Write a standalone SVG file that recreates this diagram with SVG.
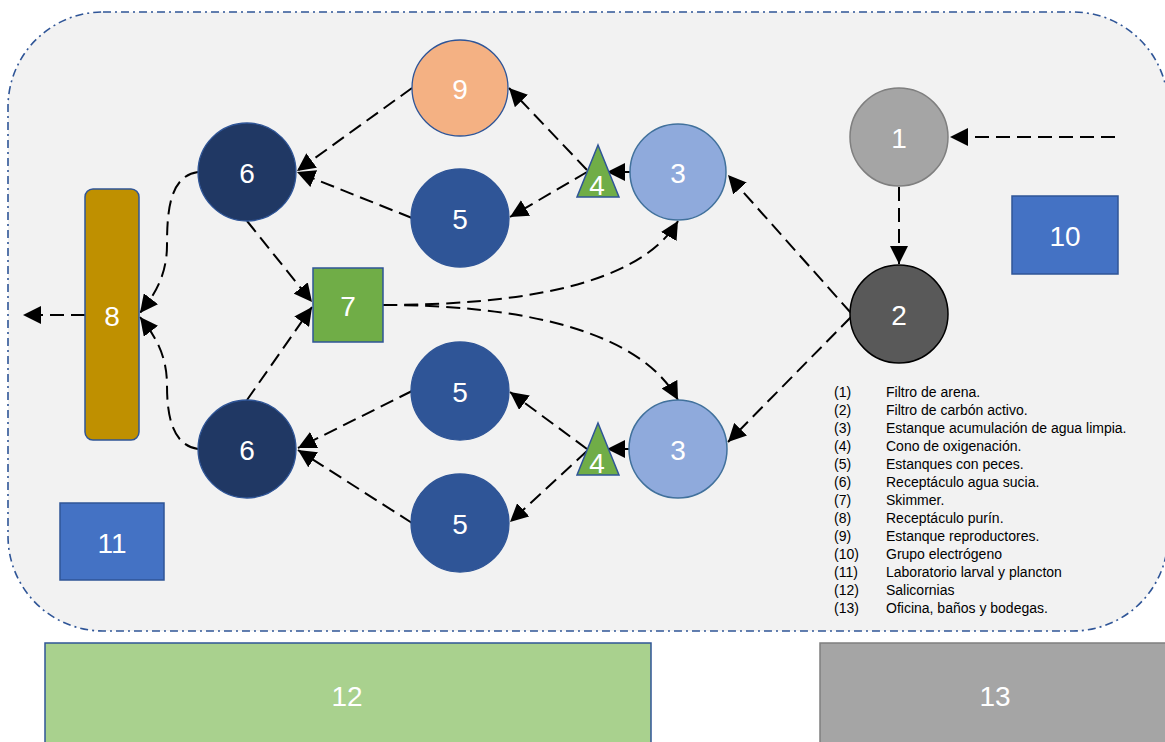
<svg xmlns="http://www.w3.org/2000/svg" width="1165" height="742" viewBox="0 0 1165 742">
  <defs>
    <marker id="arrow" viewBox="0 0 10 10" refX="10" refY="5" markerWidth="18" markerHeight="18" markerUnits="userSpaceOnUse" orient="auto">
      <path d="M0,0 L10,5 L0,10 z" fill="#000"/>
    </marker>
    <style>
      .lbl { font-family: "Liberation Sans", Arial, sans-serif; font-size: 28px; fill: #fff; text-anchor: middle; }
      .leg { font-family: "Liberation Sans", Arial, sans-serif; font-size: 14px; fill: #000; }
      .edge { fill: none; stroke: #000; stroke-width: 2; stroke-dasharray: 14 7; marker-end: url(#arrow); }
      .dark6 { fill: #203864; stroke: #2F5597; stroke-width: 1.3; }
      .fish5 { fill: #2F5597; stroke: #2F5597; stroke-width: 1.3; }
      .clean3 { fill: #8FAADC; stroke: #41719C; stroke-width: 1.5; }
      .cone4 { fill: #70AD47; stroke: #2F5597; stroke-width: 1.5; }
      .blue { fill: #4472C4; stroke: #2F5597; stroke-width: 1.5; }
    </style>
  </defs>

  <!-- plant boundary -->
  <rect id="boundary" x="8" y="12" width="1160" height="619" rx="95" ry="95" fill="#F2F2F2" stroke="#2F5597" stroke-width="1.6" stroke-dasharray="8 4 2 4"/>

  <!-- outer buildings -->
  <g id="n12">
    <rect x="45" y="643" width="606" height="110" fill="#A9D18E" stroke="#2F5597" stroke-width="1.5"/>
    <text class="lbl" x="347" y="706">12</text>
  </g>
  <g id="n13">
    <rect x="820" y="643" width="360" height="110" fill="#A5A5A5" stroke="#7F7F7F" stroke-width="1.5"/>
    <text class="lbl" x="995" y="706">13</text>
  </g>

  <!-- connectors -->
  <g id="connectors">
    <path class="edge" d="M1115,137 L950,137"/>
    <path class="edge" d="M899,187 L899,264"/>
    <path class="edge" d="M851,313 L728,175"/>
    <path class="edge" d="M851,317 L728,442"/>
    <path class="edge" d="M630,172 L607,172"/>
    <path class="edge" d="M587,170 L509,88"/>
    <path class="edge" d="M587,172 L510,217"/>
    <path class="edge" d="M412,88 L297,171"/>
    <path class="edge" d="M412,218 L297,172"/>
    <path class="edge" d="M247,221 L312,302"/>
    <path class="edge" d="M247,400 L312,307"/>
    <path class="edge" d="M198,172 C170,176 167,210 167,245 C167,280 150,300 140,313"/>
    <path class="edge" d="M198,449 C170,445 167,410 167,385 C167,350 150,330 140,317"/>
    <path class="edge" d="M85,315 L23,315"/>
    <path class="edge" d="M383,305 C520,305 640,285 678,221"/>
    <path class="edge" d="M383,305 C520,305 640,330 678,400"/>
    <path class="edge" d="M630,449 L607,449"/>
    <path class="edge" d="M587,449 L510,392"/>
    <path class="edge" d="M587,451 L510,522"/>
    <path class="edge" d="M412,391 L298,448"/>
    <path class="edge" d="M412,523 L298,450"/>
  </g>

  <!-- process units -->
  <g id="n1">
    <circle cx="899" cy="137" r="49" fill="#A5A5A5" stroke="#7F7F7F" stroke-width="1.5"/>
    <text class="lbl" x="899" y="148">1</text>
  </g>
  <g id="n2">
    <circle cx="899" cy="314" r="49" fill="#595959" stroke="#000" stroke-width="1.5"/>
    <text class="lbl" x="899" y="325">2</text>
  </g>
  <g id="n3a">
    <circle class="clean3" cx="678" cy="172" r="48"/>
    <text class="lbl" x="678" y="183">3</text>
  </g>
  <g id="n3b">
    <circle class="clean3" cx="678" cy="449" r="49"/>
    <text class="lbl" x="678" y="460">3</text>
  </g>
  <g id="n4a">
    <polygon class="cone4" points="598,145 619,197 577,197"/>
    <text class="lbl" x="597" y="195">4</text>
  </g>
  <g id="n4b">
    <polygon class="cone4" points="598,423 619,475 577,475"/>
    <text class="lbl" x="597" y="473">4</text>
  </g>
  <g id="n9">
    <circle cx="460" cy="88" r="48" fill="#F4B183" stroke="#2F5597" stroke-width="1.3"/>
    <text class="lbl" x="460" y="99">9</text>
  </g>
  <g id="n5a">
    <circle class="fish5" cx="460" cy="218" r="49"/>
    <text class="lbl" x="460" y="229">5</text>
  </g>
  <g id="n5b">
    <circle class="fish5" cx="460" cy="391" r="49"/>
    <text class="lbl" x="460" y="402">5</text>
  </g>
  <g id="n5c">
    <circle class="fish5" cx="460" cy="523" r="49"/>
    <text class="lbl" x="460" y="534">5</text>
  </g>
  <g id="n6a">
    <circle class="dark6" cx="247" cy="172" r="49"/>
    <text class="lbl" x="247" y="183">6</text>
  </g>
  <g id="n6b">
    <circle class="dark6" cx="247" cy="449" r="49"/>
    <text class="lbl" x="247" y="460">6</text>
  </g>
  <g id="n7">
    <rect x="313" y="268" width="70" height="74" fill="#70AD47" stroke="#2F5597" stroke-width="1.5"/>
    <text class="lbl" x="348" y="316">7</text>
  </g>
  <g id="n8">
    <rect x="85" y="189" width="54" height="251" rx="8" ry="8" fill="#BF9000" stroke="#2F5597" stroke-width="1.5"/>
    <text class="lbl" x="112" y="326">8</text>
  </g>
  <g id="n10">
    <rect class="blue" x="1012" y="196" width="106" height="78"/>
    <text class="lbl" x="1065" y="246">10</text>
  </g>
  <g id="n11">
    <rect class="blue" x="60" y="503" width="104" height="77"/>
    <text class="lbl" x="112" y="553">11</text>
  </g>

  <!-- legend -->
  <g id="legend" class="leg">
    <text x="834" y="397">(1)</text><text x="886" y="397">Filtro de arena.</text>
    <text x="834" y="415">(2)</text><text x="886" y="415">Filtro de carbón activo.</text>
    <text x="834" y="433">(3)</text><text x="886" y="433">Estanque acumulación de agua limpia.</text>
    <text x="834" y="451">(4)</text><text x="886" y="451">Cono de oxigenación.</text>
    <text x="834" y="469">(5)</text><text x="886" y="469">Estanques con peces.</text>
    <text x="834" y="487">(6)</text><text x="886" y="487">Receptáculo agua sucia.</text>
    <text x="834" y="505">(7)</text><text x="886" y="505">Skimmer.</text>
    <text x="834" y="523">(8)</text><text x="886" y="523">Receptáculo purín.</text>
    <text x="834" y="541">(9)</text><text x="886" y="541">Estanque reproductores.</text>
    <text x="834" y="559">(10)</text><text x="886" y="559">Grupo electrógeno</text>
    <text x="834" y="577">(11)</text><text x="886" y="577">Laboratorio larval y plancton</text>
    <text x="834" y="595">(12)</text><text x="886" y="595">Salicornias</text>
    <text x="834" y="613">(13)</text><text x="886" y="613">Oficina, baños y bodegas.</text>
  </g>
</svg>
